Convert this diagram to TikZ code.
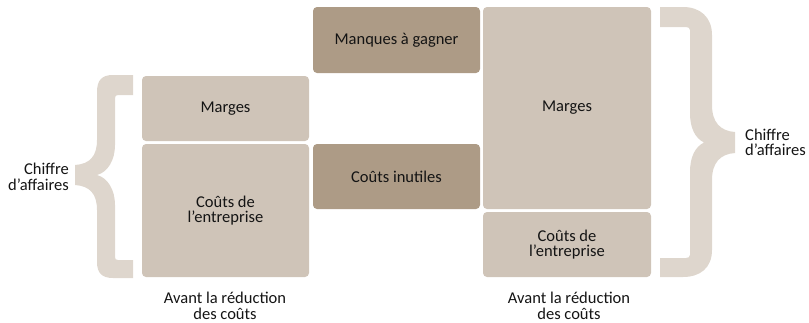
\documentclass[tikz,border=0pt]{standalone}
\usepackage{fontspec}
\setmainfont{Carlito}
\definecolor{boxlight}{RGB}{207,196,184}
\definecolor{boxdark}{RGB}{173,155,134}
\definecolor{bracecol}{RGB}{222,214,205}
\definecolor{txt}{RGB}{20,20,20}
\begin{document}
\begin{tikzpicture}[x=1pt,y=-1pt,
  box/.style={rounded corners=4pt, inner sep=0pt, minimum width=167pt, align=center,
    font=\fontsize{16.5}{15.5}\selectfont, text=txt},
  light/.style={box, fill=boxlight},
  dark/.style={box, fill=boxdark},
  lbl/.style={inner sep=0pt, font=\fontsize{16.5}{15.5}\selectfont, text=txt},
  bracefill/.style={fill=bracecol, draw=none}]
\useasboundingbox (0,0) rectangle (809,322);
% boxes
\node[light, minimum height=65pt] (m1) at (225.5,108.5) {Marges};
\node[light, minimum height=133pt] (c1) at (225.5,210.5) {Coûts de\\l’entreprise};
\node[dark, minimum height=66pt] (mg) at (396.5,40) {Manques à gagner};
\node[dark, minimum height=65pt] (ci) at (396.5,176.5) {Coûts inutiles};
\node[light, minimum width=168pt, minimum height=202pt] (m2) at (567,108) {Marges};
\node[light, minimum width=168pt, minimum height=65pt] (c2) at (567,244.5) {Coûts de\\l’entreprise};
% left brace
\fill[bracefill] (133,75) -- (113,75) .. controls (102,75) and (97,80) .. (97,92) -- (97,140)
  .. controls (97,156) and (90,164) .. (75,165) -- (75,185)
  .. controls (90,186) and (97,194) .. (97,210) -- (97,262)
  .. controls (97,273) and (102,278) .. (113,278) -- (133,278) -- (133,260) -- (118,260)
  .. controls (116,260) and (115,259) .. (115,257) -- (115,205)
  .. controls (115,190) and (108,178) .. (97,175)
  .. controls (108,172) and (115,160) .. (115,145) -- (115,98)
  .. controls (115,96) and (116,95) .. (118,95) -- (133,95) -- cycle;
% right brace
\fill[bracefill] (660,7) -- (683,7) .. controls (700,7) and (712,17) .. (712,35) -- (712,105)
  .. controls (712,122) and (720,131) .. (735,132) -- (735,153)
  .. controls (720,154) and (712,163) .. (712,180) -- (712,250)
  .. controls (712,268) and (700,277) .. (683,277) -- (660,277) -- (660,258) -- (686,258)
  .. controls (688,258) and (690,257) .. (690,255) -- (690,172)
  .. controls (690,157) and (695,147) .. (704,142.5)
  .. controls (695,138) and (690,128) .. (690,113) -- (690,30)
  .. controls (690,28) and (688,27) .. (686,27) -- (660,27) -- cycle;
% labels
\node[lbl, align=right, anchor=east] (ca1) at (69,177) {Chiffre\\d’affaires};
\node[lbl, align=left, anchor=west] (ca2) at (745,142.5) {Chiffre\\d’affaires};
\node[lbl, align=center] (av1) at (225,306) {Avant la réduction\\des coûts};
\node[lbl, align=center] (av2) at (569,306) {Avant la réduction\\des coûts};
\end{tikzpicture}
\end{document}
